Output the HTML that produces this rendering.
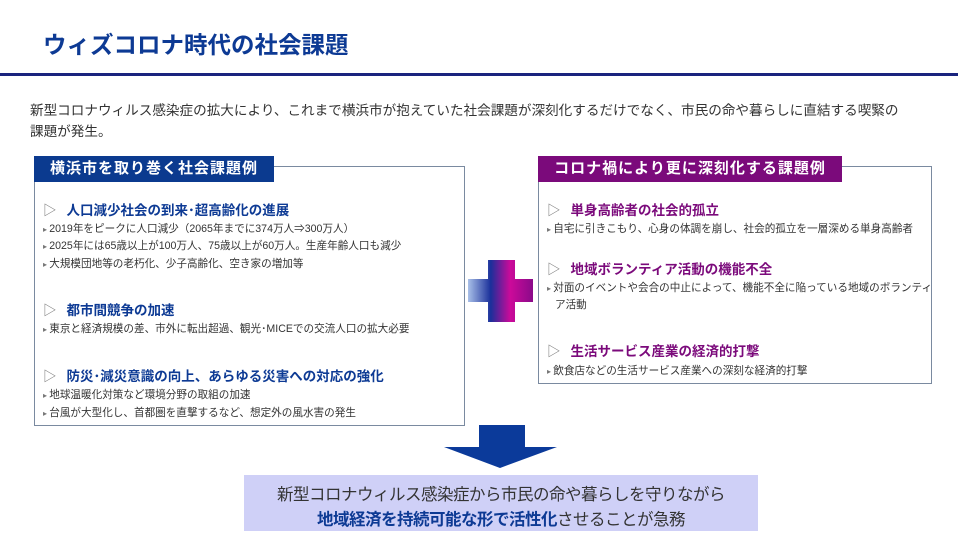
<!DOCTYPE html>
<html><head><meta charset="utf-8"><style>
*{margin:0;padding:0;box-sizing:border-box}
body{width:958px;height:543px;background:#fff;position:relative;overflow:hidden;font-family:"Liberation Sans","Noto Sans CJK JP",sans-serif;color:#333}
.a{position:absolute;white-space:nowrap}
.title{left:43px;top:26px;font-size:23.5px;font-weight:bold;color:#0d3a94}
.rule{left:0;top:73px;width:958px;height:3px;background:#1a237e}
.intro{left:30px;font-size:13.6px;color:#333}
.box{position:absolute;border:1px solid #7a8aa0;background:#fff}
.lab{position:absolute;color:#fff;font-size:15px;font-weight:bold;text-align:center;line-height:26px;letter-spacing:1px}
.h{font-size:13.5px;font-weight:bold}
.h span{color:#777;font-weight:normal;margin-right:10px}
.b{font-size:10.6px;color:#333}
.b:before{content:"▸ ";font-size:8px;color:#777}
.nb{font-size:10.6px;color:#333}
.blue{color:#0d3a94}.pur{color:#7b0a7b}
</style></head><body>
<div class="a title">ウィズコロナ時代の社会課題</div>
<div class="a rule"></div>
<div class="a intro" style="top:99px">新型コロナウィルス感染症の拡大により、これまで横浜市が抱えていた社会課題が深刻化するだけでなく、市民の命や暮らしに直結する喫緊の</div>
<div class="a intro" style="top:120px">課題が発生。</div>

<div class="box" style="left:34px;top:166px;width:431px;height:260px"></div>
<div class="lab" style="left:34px;top:156px;width:240px;height:26px;background:#0b3a8f">横浜市を取り巻く社会課題例</div>
<div class="a h blue" style="left:43px;top:199px"><span>▷</span>人口減少社会の到来･超高齢化の進展</div>
<div class="a b" style="left:43px;top:221px">2019年をピークに人口減少（2065年までに374万人⇒300万人）</div>
<div class="a b" style="left:43px;top:238px">2025年には65歳以上が100万人、75歳以上が60万人。生産年齢人口も減少</div>
<div class="a b" style="left:43px;top:256px">大規模団地等の老朽化、少子高齢化、空き家の増加等</div>
<div class="a h blue" style="left:43px;top:299px"><span>▷</span>都市間競争の加速</div>
<div class="a b" style="left:43px;top:321px">東京と経済規模の差、市外に転出超過、観光･MICEでの交流人口の拡大必要</div>
<div class="a h blue" style="left:43px;top:365px"><span>▷</span>防災･減災意識の向上、あらゆる災害への対応の強化</div>
<div class="a b" style="left:43px;top:387px">地球温暖化対策など環境分野の取組の加速</div>
<div class="a b" style="left:43px;top:405px">台風が大型化し、首都圏を直撃するなど、想定外の風水害の発生</div>

<div class="box" style="left:538px;top:166px;width:394px;height:218px"></div>
<div class="lab" style="left:538px;top:156px;width:304px;height:26px;background:#7b0a7b">コロナ禍により更に深刻化する課題例</div>
<div class="a h pur" style="left:547px;top:199px"><span>▷</span>単身高齢者の社会的孤立</div>
<div class="a b" style="left:547px;top:221px">自宅に引きこもり、心身の体調を崩し、社会的孤立を一層深める単身高齢者</div>
<div class="a h pur" style="left:547px;top:258px"><span>▷</span>地域ボランティア活動の機能不全</div>
<div class="a b" style="left:547px;top:280px">対面のイベントや会合の中止によって、機能不全に陥っている地域のボランティ</div>
<div class="a nb" style="left:555px;top:297px;">ア活動</div>
<div class="a h pur" style="left:547px;top:340px"><span>▷</span>生活サービス産業の経済的打撃</div>
<div class="a b" style="left:547px;top:363px">飲食店などの生活サービス産業への深刻な経済的打撃</div>

<svg class="a" style="left:0;top:0" width="958" height="543">
<defs><linearGradient id="g" x1="468" x2="533" gradientUnits="userSpaceOnUse">
<stop offset="0" stop-color="#a9c0e8"/><stop offset="0.35" stop-color="#1a2f9a"/><stop offset="0.65" stop-color="#cc0a9a"/><stop offset="1" stop-color="#8a0a8a"/></linearGradient></defs>
<path d="M488 260H515V279H533V302H515V322H488V302H468V279H488Z" fill="url(#g)"/>
<path d="M479 425H525V447H557L500 468L444 447H479Z" fill="#0b3a9a"/>
</svg>

<div class="a" style="left:244px;top:475px;width:514px;height:56px;background:#cfd0f7"></div>
<div class="a" style="left:244px;top:481px;width:514px;text-align:center;font-size:16.5px;color:#333;letter-spacing:-0.5px">新型コロナウィルス感染症から市民の命や暮らしを守りながら</div>
<div class="a" style="left:244px;top:506px;width:514px;text-align:center;font-size:16.5px;color:#333;letter-spacing:-0.5px"><b style="color:#0d3a94">地域経済を持続可能な形で活性化</b>させることが急務</div>
</body></html>
